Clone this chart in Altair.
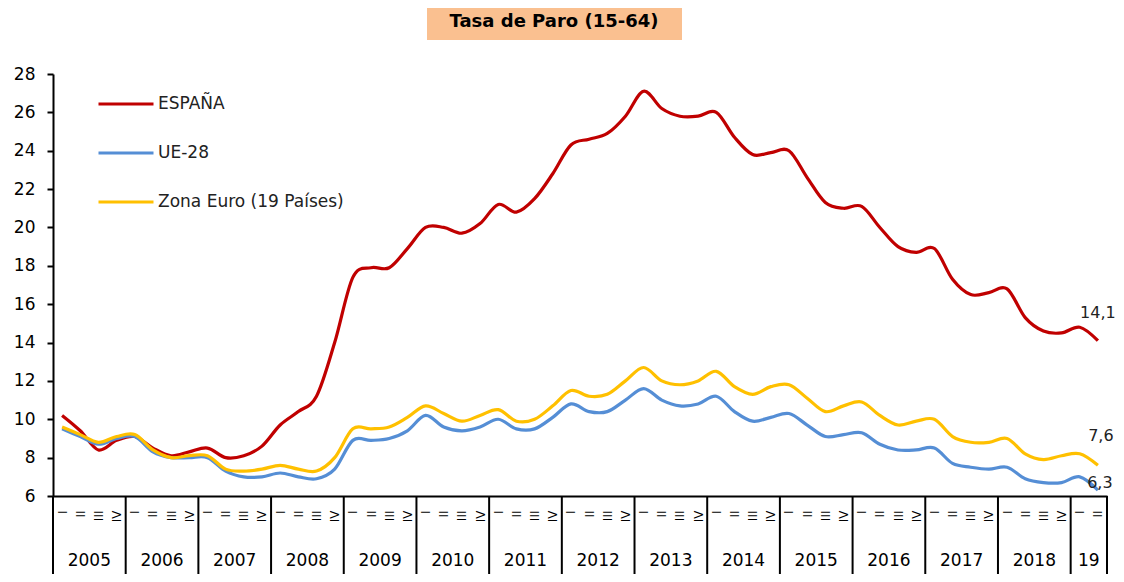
import altair as alt
import pandas as pd

# ---------------- data ----------------
year_labels = ["2005", "2006", "2007", "2008", "2009", "2010", "2011", "2012",
               "2013", "2014", "2015", "2016", "2017", "2018", "19"]
quarters_per_year = [4] * 14 + [2]
quarter_names = ["I", "II", "III", "IV"]

series_names = ["ESPAÑA", "UE-28", "Zona Euro (19 Países)"]
series_colors = ["#C00000", "#558ED5", "#FFC000"]

espana = [10.2, 9.4, 8.4, 8.9,
          9.1, 8.5, 8.1, 8.3,
          8.5, 8.0, 8.1, 8.6,
          9.7, 10.4, 11.2, 14.0,
          17.4, 17.9, 17.9, 18.9,
          20.0, 20.0, 19.7, 20.2,
          21.2, 20.8, 21.5, 22.8,
          24.3, 24.6, 24.9, 25.8,
          27.1, 26.2, 25.8, 25.8,
          26.0, 24.7, 23.8, 23.9,
          24.0, 22.6, 21.3, 21.0,
          21.1, 20.0, 19.0, 18.7,
          18.9, 17.3, 16.5, 16.6,
          16.8, 15.3, 14.6, 14.5,
          14.8, 14.1]

ue28 = [9.5, 9.1, 8.7, 9.0,
        9.1, 8.3, 8.0, 8.0,
        8.0, 7.3, 7.0, 7.0,
        7.2, 7.0, 6.9, 7.4,
        8.9, 8.9, 9.0, 9.4,
        10.2, 9.6, 9.4, 9.6,
        10.0, 9.5, 9.5, 10.1,
        10.8, 10.4, 10.4, 11.0,
        11.6, 11.0, 10.7, 10.8,
        11.2, 10.4, 9.9, 10.1,
        10.3, 9.7, 9.1, 9.2,
        9.3, 8.7, 8.4, 8.4,
        8.5, 7.7, 7.5, 7.4,
        7.5, 6.9, 6.7, 6.7,
        7.0, 6.3]

zona_euro = [9.6, 9.2, 8.8, 9.1,
             9.2, 8.4, 8.0, 8.1,
             8.1, 7.4, 7.3, 7.4,
             7.6, 7.4, 7.3, 8.0,
             9.5, 9.5, 9.6, 10.1,
             10.7, 10.3, 9.9, 10.2,
             10.5, 9.9, 10.0, 10.7,
             11.5, 11.2, 11.3, 12.0,
             12.7, 12.0, 11.8, 12.0,
             12.5, 11.7, 11.3, 11.7,
             11.8, 11.1, 10.4, 10.7,
             10.9, 10.2, 9.7, 9.9,
             10.0, 9.1, 8.8, 8.8,
             9.0, 8.2, 7.9, 8.1,
             8.2, 7.6]

title_text = "Tasa de Paro (15-64)"

# ---------------- tables ----------------
all_series = [espana, ue28, zona_euro]
n_q = len(espana)

rows = []
for name, vals in zip(series_names, all_series):
    for i, v in enumerate(vals):
        rows.append({"serie": name, "q": i + 0.5, "valor": v})
df = pd.DataFrame(rows)

end_rows = []
for name, vals in zip(series_names, all_series):
    v = vals[-1]
    end_rows.append({"serie": name, "q": len(vals) - 0.5, "valor": v,
                     "txt": f"{v:.1f}".replace(".", ",")})
df_end = pd.DataFrame(end_rows)

bounds = [0]
for k in quarters_per_year:
    bounds.append(bounds[-1] + k)
df_bounds = pd.DataFrame({"q": bounds})
df_years = pd.DataFrame({
    "q": [bounds[i] + quarters_per_year[i] / 2 for i in range(len(year_labels))],
    "y": year_labels,
})

FONT = "DejaVu Sans"
W, H = 1054, 422
xscale = alt.Scale(domain=[0, n_q], nice=False, zero=False)
yscale = alt.Scale(domain=[6, 28], nice=False, zero=False)

x_axis = alt.Axis(values=[i + 0.5 for i in range(n_q)],
                  labelExpr="['I','II','III','IV'][floor(datum.value) % 4]",
                  labelAngle=270, labelAlign="right", labelBaseline="middle",
                  labelFont=FONT, labelFontSize=12, labelColor="#000000",
                  labelPadding=14, labelOverlap=False, labelFlush=False,
                  ticks=False, tickSize=0, grid=False,
                  domainColor="#000000", domainWidth=2)
y_axis = alt.Axis(values=list(range(6, 29, 2)), grid=False,
                  labelFont=FONT, labelFontSize=17, labelColor="#000000",
                  labelPadding=12, tickSize=6, tickWidth=2,
                  tickColor="#000000", domainColor="#000000",
                  domainWidth=2)

X = alt.X("q:Q", scale=xscale, title=None, axis=x_axis)
Y = alt.Y("valor:Q", scale=yscale, title=None, axis=y_axis)

color = alt.Color(
    "serie:N",
    scale=alt.Scale(domain=series_names, range=series_colors),
    legend=alt.Legend(
        orient="none", legendX=44, legendY=6, title=None,
        symbolType="stroke", symbolSize=3025, symbolStrokeWidth=3,
        labelFont=FONT, labelFontSize=17, labelColor="#222222",
        labelOffset=3, clipHeight=48, rowPadding=1, padding=0,
        labelLimit=400,
    ),
)

lines = alt.Chart(df).mark_line(interpolate="cardinal", strokeWidth=3.2).encode(
    x=X, y=Y, color=color, order=alt.Order("q:Q"),
)

end_layers = []
offsets = {"ESPAÑA": (0, -28), "UE-28": (2, -7), "Zona Euro (19 Países)": (3, -29)}
for name in series_names:
    dx, dy = offsets[name]
    end_layers.append(
        alt.Chart(df_end).transform_filter(alt.datum.serie == name)
        .mark_text(font=FONT, fontSize=16, color="#222222", dx=dx, dy=dy,
                   align="center", baseline="middle")
        .encode(x=X, y=Y, text="txt:N")
    )

seps = alt.Chart(df_bounds).mark_rule(color="#000000", strokeWidth=2).encode(
    x=X, y=alt.value(H), y2=alt.value(H + 78),
)

years = alt.Chart(df_years).mark_text(font=FONT, fontSize=17, color="#000000",
                                      baseline="middle", align="center").encode(
    x=X, y=alt.value(H + 65), text="y:N",
)

title_df = pd.DataFrame({"t": [title_text]})
title_box = alt.Chart(title_df).mark_rect(color="#FAC090").encode(
    x=alt.value(374), x2=alt.value(629), y=alt.value(-72), y2=alt.value(-34),
)
title_txt = alt.Chart(title_df).mark_text(font=FONT, fontSize=18, fontWeight="bold",
                                         color="#000000", align="center",
                                         baseline="middle").encode(
    x=alt.value(501), y=alt.value(-52), text="t:N",
)

chart = alt.layer(lines, seps, years, title_box, title_txt, *end_layers).properties(
    width=W, height=H,
    autosize=alt.AutoSizeParams(type="none"),
    padding={"left": 45, "top": 66, "right": 9, "bottom": 78},
).configure_view(stroke="transparent")

chart.save("out.html", embed_options={"renderer": "svg", "actions": False})
